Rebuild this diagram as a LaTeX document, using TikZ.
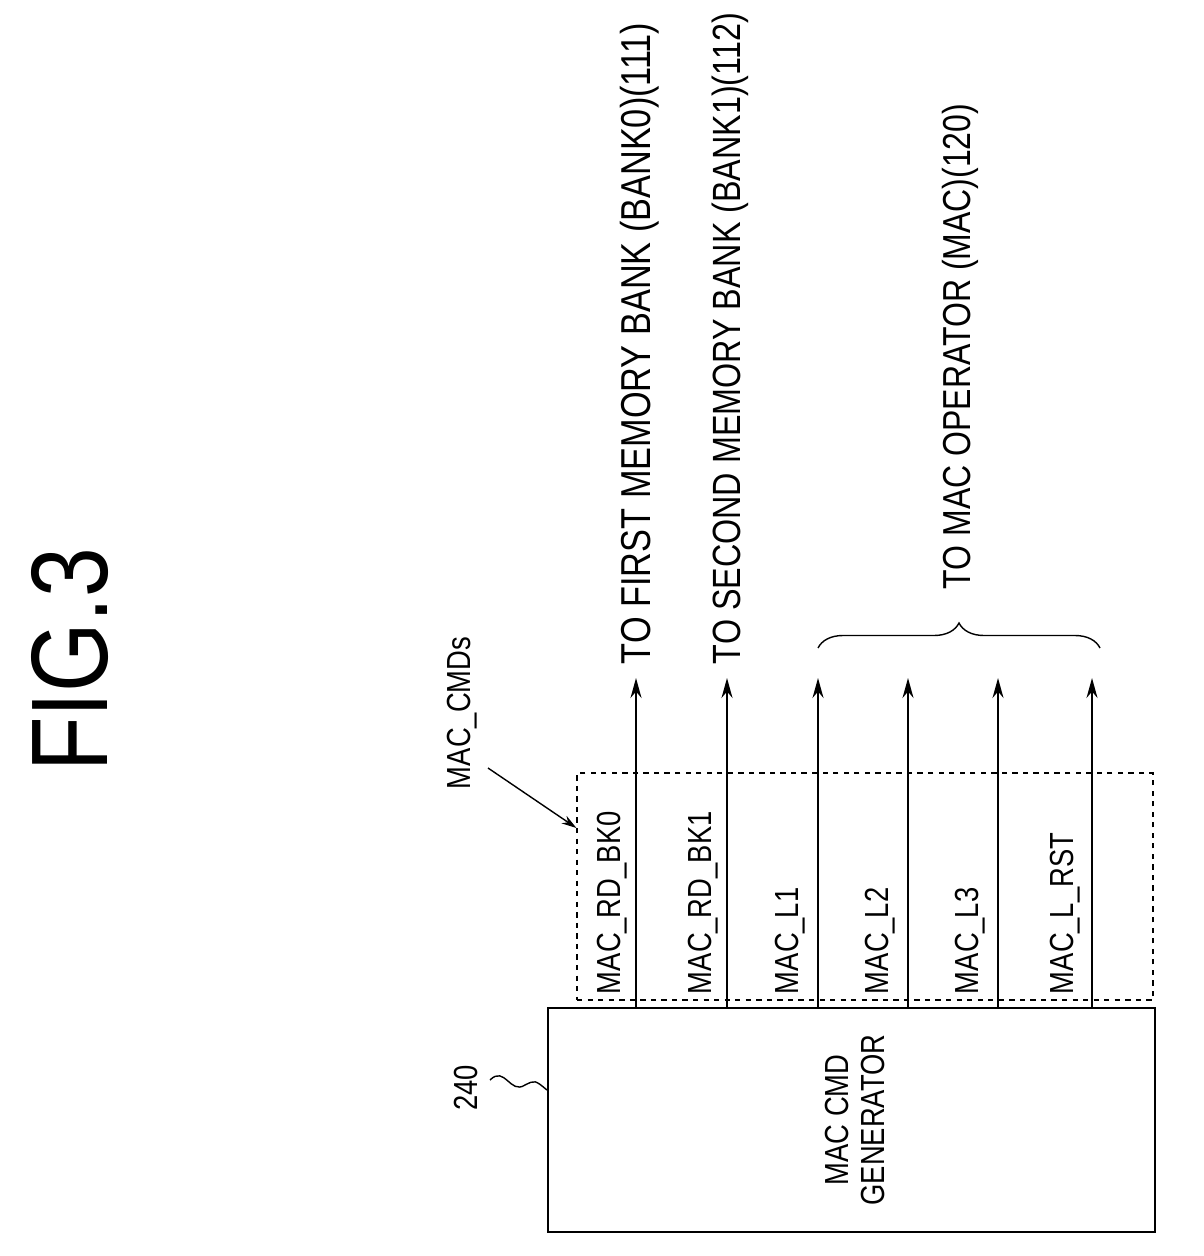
\documentclass[tikz,border=0pt]{standalone}
\usepackage{fontspec}
\setmainfont{Liberation Sans}
\newfontfamily\lblfont[FakeStretch=0.82]{Liberation Sans}
\usetikzlibrary{arrows.meta, decorations.pathreplacing, positioning}

\begin{document}
\begin{tikzpicture}[
            x = 0.02cm, y = -0.02cm, % one unit = one pixel
            > = {Stealth[length=4mm, width=2.2mm]},
            line width = 1.1pt,
            lbl/.style = {font=\lblfont\fontsize{19}{20}\selectfont, rotate=90, inner sep=0pt},
            dest/.style = {font=\lblfont\fontsize{#1}{20}\selectfont, rotate=90, inner sep=0pt, anchor=west},
            block/.style = {draw, minimum width=12.14cm, minimum height=4.48cm, line width=1.3pt}
        ]
    \useasboundingbox (0,0) rectangle (1203,1256);

    % title
    \node[font=\lblfont\fontsize{62}{62}\selectfont, rotate=90] (fig) at (70,660) {FIG.3};

    % generator block
    \node[block] (gen) at (851.5,1120) {};
    \node[lbl, align=center] (genlbl) at (855,1120) {MAC CMD\\GENERATOR};
    \node[lbl] (ref) at (466,1088) {240};
    \draw[line width=0.8pt] (490,1080)
        .. controls (505,1065) and (510,1095) .. (525,1085)
        .. controls (535,1080) .. (gen.west |- 0,1090);

    % command group
    \node[draw, dashed, line width=0.7pt, minimum width=11.52cm, minimum height=4.54cm] (cmds) at (865,886.5) {};
    \node[lbl, anchor=west] (grp) at (462,790) {MAC\_CMDs};
    \draw[->, line width=0.8pt, > = {Stealth[length=3mm, width=1.8mm]}] (488,768) -- (cmds.north west |- 0,828);

    % command lines
    \foreach \x/\name/\lx in {636/MAC\_RD\_BK0/612, 727/MAC\_RD\_BK1/703, 818/MAC\_L1/790,
                             908/MAC\_L2/880, 998/MAC\_L3/970, 1092/MAC\_L\_RST/1065} {
        \coordinate (t\x) at (\x,678);
        \draw[->] (gen.north -| t\x) -- (t\x);
        \node[lbl, anchor=west] at (\lx,995) {\name};
    }

    % destinations
    \node[dest=23.8] (bank0) at (640,665) {TO FIRST MEMORY BANK (BANK0)(111)};
    \node[dest=22.4] (bank1) at (730,665) {TO SECOND MEMORY BANK (BANK1)(112)};
    \draw[line width=0.8pt, decorate, decoration={brace, amplitude=0.5cm}] (818,648) -- (1100,648);
    \node[dest=22.2] (mac) at (960,590) {TO MAC OPERATOR (MAC)(120)};
\end{tikzpicture}
\end{document}
